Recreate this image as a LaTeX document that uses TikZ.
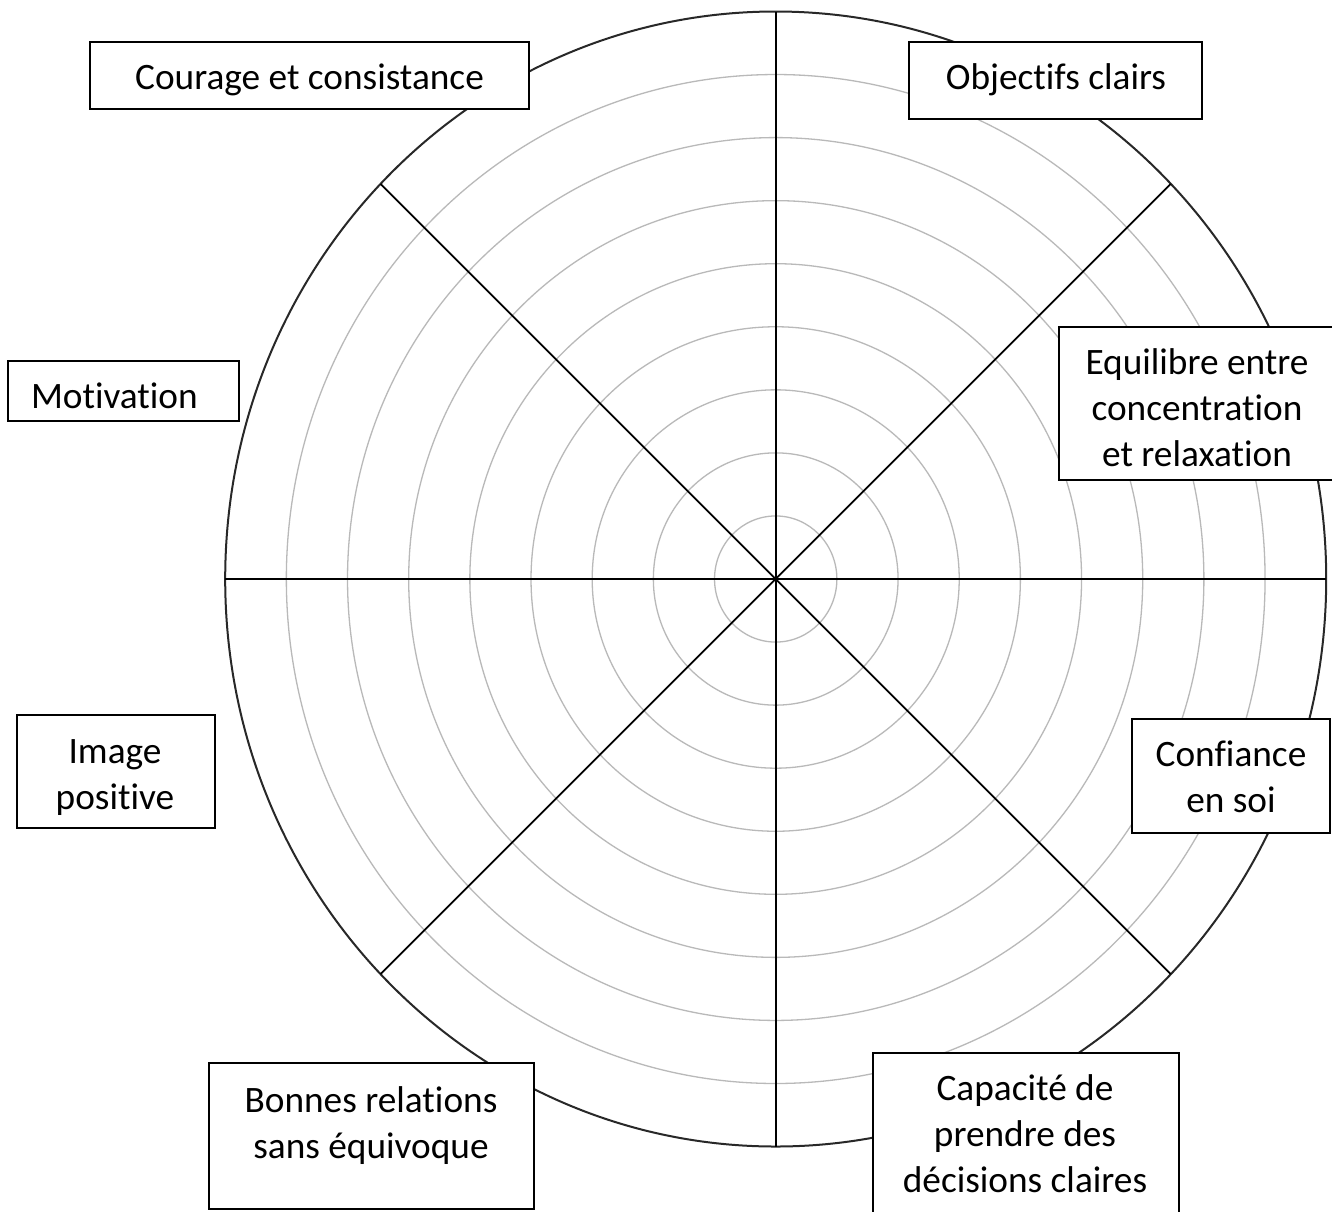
\documentclass[tikz,border=0pt]{standalone}
\usepackage{fontspec}
\setmainfont{Carlito}[Ligatures={NoCommon,TeX}]
\newcommand{\lblfont}{\fontsize{37.3pt}{46pt}\selectfont}
\definecolor{ringgray}{RGB}{185,185,185}
\definecolor{rimcol}{RGB}{40,40,40}
\tikzset{
  ring/.style={draw=ringgray, line width=1.3pt},
  rim/.style={draw=rimcol, line width=2pt},
  spoke/.style={draw=black, line width=1.8pt},
  labelbox/.style={draw=black, line width=1.5pt, fill=white, inner sep=0pt, outer sep=0pt},
  lbl/.style={inner sep=0pt, outer sep=0pt, font=\lblfont, anchor=base, text=black}
}
\begin{document}
\begin{tikzpicture}[x=1pt, y=-1pt]
\useasboundingbox (0,0) rectangle (1332,1211);
\clip (0,0) rectangle (1332,1211);
\fill[white] (0,0) rectangle (1332,1211);
% centre and spoke ends
\coordinate (c) at (775.7,579);
\coordinate (eN) at (775.7,11.5);
\coordinate (eS) at (775.7,1146.5);
\coordinate (eW) at (225.2,579);
\coordinate (eE) at (1326.2,579);
\coordinate (eNE) at (1170.8,183.9);
\coordinate (eNW) at (380.6,183.9);
\coordinate (eSE) at (1170.8,974.1);
\coordinate (eSW) at (380.6,974.1);
% rings
\foreach \k in {1,...,8}
  \draw[ring] (c) ellipse [x radius=\k*61.17pt, y radius=\k*63.06pt];
\draw[rim] (c) ellipse [x radius=550.5pt, y radius=567.5pt];
% spokes
\foreach \e in {eN,eS,eW,eE,eNE,eNW,eSE,eSW}
  \draw[spoke] (c) -- (\e);
% boxes
\node[labelbox, minimum width=439pt, minimum height=67pt] (b1) at (309.5,75.5) {};
\node[labelbox, minimum width=293pt, minimum height=77pt] (b2) at (1055.5,80.5) {};
\node[labelbox, minimum width=231pt, minimum height=60pt] (b3) at (123.5,391) {};
\node[labelbox, minimum width=281pt, minimum height=153pt] (b4) at (1199.5,403.5) {};
\node[labelbox, minimum width=198pt, minimum height=113pt] (b5) at (116,771.5) {};
\node[labelbox, minimum width=198pt, minimum height=114pt] (b6) at (1231,776) {};
\node[labelbox, minimum width=325pt, minimum height=146pt] (b7) at (371.5,1136) {};
\node[labelbox, minimum width=306pt, minimum height=177pt] (b8) at (1026,1141.5) {};
% texts
\node[lbl] (t1) at (309.5,89) {Courage et consistance};
\node[lbl] (t2) at (1056,89) {Objectifs clairs};
\node[lbl, anchor=base west] (t3) at (31,408) {Motivation};
\node[lbl] (t4a) at (1197,374) {Equilibre entre};
\node[lbl] (t4b) at (1197,420) {concentration};
\node[lbl] (t4c) at (1197,466) {et relaxation};
\node[lbl] (t5a) at (115,763) {Image};
\node[lbl] (t5b) at (115,809) {positive};
\node[lbl] (t6a) at (1231,766) {Confiance};
\node[lbl] (t6b) at (1231,812) {en soi};
\node[lbl] (t7a) at (371,1112) {Bonnes relations};
\node[lbl] (t7b) at (371,1158) {sans équivoque};
\node[lbl] (t8a) at (1025,1100) {Capacité de};
\node[lbl] (t8b) at (1025,1146) {prendre des};
\node[lbl] (t8c) at (1025,1192) {décisions claires};
\end{tikzpicture}
\end{document}
